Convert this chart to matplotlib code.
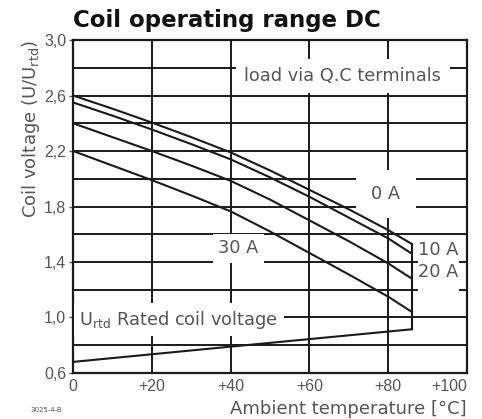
import matplotlib
matplotlib.use('Agg')
import matplotlib.pyplot as plt
from matplotlib.patches import Rectangle

plt.rcParams['font.family'] = ['DejaVu Sans']

# --- Data ---
temps = [0, 10, 20, 30, 40, 50, 60, 70, 80, 86]
volt_0a = [2.60, 2.505, 2.405, 2.30, 2.19, 2.06, 1.92, 1.78, 1.63, 1.53]
volt_10a = [2.55, 2.455, 2.355, 2.25, 2.14, 2.01, 1.87, 1.72, 1.57, 1.46]
volt_20a = [2.40, 2.30, 2.20, 2.095, 1.985, 1.85, 1.70, 1.55, 1.39, 1.28]
volt_30a = [2.20, 2.095, 1.99, 1.88, 1.765, 1.62, 1.465, 1.31, 1.15, 1.04]

min_temps = [0, 40, 86]
min_volt = [0.68, 0.79, 0.915]

x_ticks = [0, 20, 40, 60, 80, 100]
x_labels = ['0', '+20', '+40', '+60', '+80', '+100']
y_major = [0.6, 1.0, 1.4, 1.8, 2.2, 2.6, 3.0]
y_labels = ['0,6', '1,0', '1,4', '1,8', '2,2', '2,6', '3,0']
y_minor = [0.8, 1.2, 1.6, 2.0, 2.4, 2.8]

LINE = '#1a1a1a'
GRAY = '#555555'
TICKFONT = ['Liberation Sans', 'DejaVu Sans']

fig = plt.figure(figsize=(4.82, 4.19), dpi=100)
ax = fig.add_axes([0.1515, 0.1098, 0.8174, 0.7947])

for v in (volt_0a, volt_10a, volt_20a, volt_30a):
    ax.plot(temps, v, color=LINE, lw=1.5, zorder=5)

# lower limit line and closing vertical edge at max temperature
ax.plot(min_temps, min_volt, color=LINE, lw=1.5, zorder=5)
ax.plot([temps[-1], temps[-1]], [min_volt[-1], volt_0a[-1]], color=LINE, lw=1.5, zorder=5)

ax.set_xlim(0, 100)
ax.set_ylim(0.6, 3.0)
ax.set_xticks(x_ticks)
ax.set_xticklabels(x_labels, family=TICKFONT)
ax.set_yticks(y_major)
ax.set_yticklabels(y_labels, family=TICKFONT)
ax.set_yticks(y_minor, minor=True)
ax.grid(True, which='both', color=LINE, lw=1.4, zorder=1)
ax.set_axisbelow(True)
ax.tick_params(axis='both', which='both', length=3, width=1, colors=GRAY,
               labelsize=11.5, pad=2)
ax.tick_params(axis='y', which='minor', length=0)
ax.tick_params(axis='x', length=0, pad=4)
ax.get_xticklabels()[-1].set_horizontalalignment('right')
for s in ax.spines.values():
    s.set_linewidth(1.6)
    s.set_color(LINE)


def label(x, y, s, pad=None, ha='center'):
    bbox = dict(facecolor='white', edgecolor='none', pad=pad) if pad else None
    ax.text(x, y, s, ha=ha, va='center', fontsize=12.8, color=GRAY,
            bbox=bbox, zorder=3)


label(68.5, 2.74, 'load via Q.C terminals', 6)
label(79.4, 1.89, '0 A', 11)
label(42.0, 1.50, '30 A', 4)
label(1.6, 0.985, r'U$_\mathrm{rtd}$ Rated coil voltage', 4, ha='left')

# white gap behind the 10 A / 20 A labels (grid lines are broken there)
ax.add_patch(Rectangle((87.5, 1.17), 10.5, 0.40, facecolor='white',
                       edgecolor='none', zorder=2))
label(92.6, 1.49, '10 A')
label(92.6, 1.33, '20 A')

ax.set_xlabel('Ambient temperature [°C]', fontsize=13, color=GRAY, loc='right', labelpad=5)
ax.set_ylabel(r'Coil voltage (U/U$_\mathrm{rtd}$)', fontsize=13, color=GRAY, loc='top', labelpad=1)

fig.text(73 / 482, 1 - 20 / 419, 'Coil operating range DC', ha='left', va='center',
         fontsize=16.5, fontweight='bold', color='#111111')
fig.text(30 / 482, 1 - 410 / 419, '3025-4-B', ha='left', va='center',
         fontsize=5, color=GRAY)

fig.savefig('out.png', dpi=100)
